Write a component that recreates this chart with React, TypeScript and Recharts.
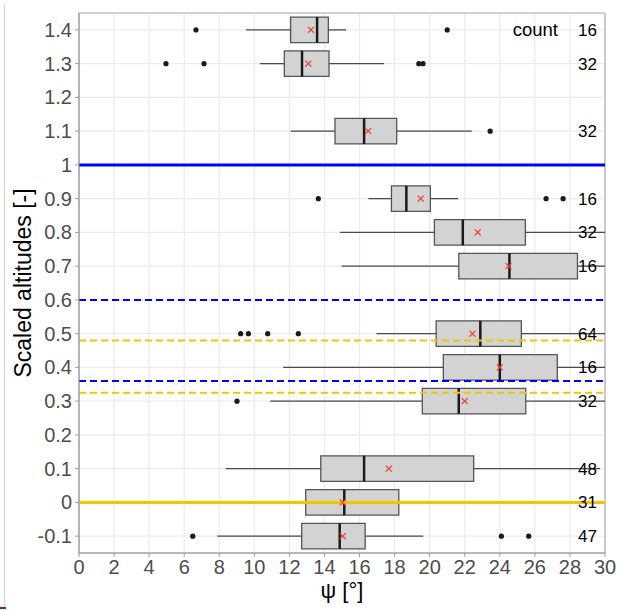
import React from 'react';
import {
  ComposedChart,
  XAxis,
  YAxis,
  CartesianGrid,
  ReferenceArea,
  ReferenceLine,
  Scatter,
} from 'recharts';

// Altitude levels (scaled) of each box, top to bottom
const levels = [1.4, 1.3, 1.1, 0.9, 0.8, 0.7, 0.5, 0.4, 0.3, 0.1, 0, -0.1];
// Five-number summaries of psi [deg] per level
const whiskerLow = [9.53, 10.33, 12.07, 16.5, 14.89, 14.98, 16.96, 11.65, 10.91, 8.37, 10.2, 7.89];
const q1 = [12.07, 11.71, 14.6, 17.82, 20.27, 21.66, 20.37, 20.78, 19.58, 13.79, 12.93, 12.7];
const medians = [13.58, 12.72, 16.26, 18.67, 21.89, 24.55, 22.89, 24.0, 21.66, 16.26, 15.13, 14.87];
const q3 = [14.22, 14.26, 18.12, 20.04, 25.46, 28.43, 25.23, 27.28, 25.48, 22.51, 18.24, 16.32];
const whiskerHigh = [15.23, 17.4, 22.4, 21.62, 30, 30, 30, 30, 30, 29.72, 21.5, 19.64];
const means = [13.23, 13.08, 16.49, 19.49, 22.74, 24.5, 22.44, 24.0, 22.0, 17.67, 15.04, 15.04];
const counts = [16, 32, 32, 16, 32, 16, 64, 16, 32, 48, 31, 47];

// Outliers as [level, psi]
const outliers: [number, number][] = [
  [1.4, 6.67], [1.4, 21.0],
  [1.3, 4.96], [1.3, 7.13], [1.3, 19.38], [1.3, 19.62],
  [1.1, 23.45],
  [0.9, 13.65], [0.9, 26.64], [0.9, 27.61],
  [0.5, 9.22], [0.5, 9.66], [0.5, 10.76], [0.5, 12.51],
  [0.3, 9.01],
  [-0.1, 6.49], [-0.1, 24.09], [-0.1, 25.65],
];

// Reference altitudes
const blueSolid = [1];
const blueDashed = [0.6, 0.36];
const yellowDashed = [0.48, 0.325];
const yellowSolid = [0];

const xTicks = [0, 2, 4, 6, 8, 10, 12, 14, 16, 18, 20, 22, 24, 26, 28, 30];
const yTicks = [-0.1, 0, 0.1, 0.2, 0.3, 0.4, 0.5, 0.6, 0.7, 0.8, 0.9, 1.0, 1.1, 1.2, 1.3, 1.4];

const BOX_HALF = 0.038;
const FONT = '"Liberation Sans", Arial, Helvetica, sans-serif';
const YELLOW = '#f2c500';
const BLUE = '#0000ff';

const meanPoints = levels.map((y, i) => ({ x: means[i], y }));
const outlierPoints = outliers.map(([y, x]) => ({ x, y }));
const countPoints = levels.map((y, i) => ({ x: 30, y, n: counts[i] }));
const headerPoint = [{ x: 30, y: 1.4 }];

const MeanMark = (props: any) => {
  const { cx, cy } = props;
  const s = 3;
  return (
    <g stroke="#f03c3c" strokeWidth={1.3}>
      <line x1={cx - s} y1={cy - s} x2={cx + s} y2={cy + s} />
      <line x1={cx - s} y1={cy + s} x2={cx + s} y2={cy - s} />
    </g>
  );
};

const OutlierDot = (props: any) => <circle cx={props.cx} cy={props.cy} r={2.6} fill="#1a1a1a" />;

const CountText = (props: any) => (
  <text x={props.cx - 8} y={props.cy + 6} textAnchor="end" fontSize={17} fontFamily={FONT} fill="#000">
    {props.payload.n}
  </text>
);

const HeaderText = (props: any) => (
  <text x={props.cx - 47} y={props.cy + 6} textAnchor="end" fontSize={18.5} fontFamily={FONT} fill="#000">
    count
  </text>
);

const fmtY = (v: number) => String(Number(v.toFixed(1)));

const YTitle = (props: any) => {
  const vb = props.viewBox || { x: 0, y: 13, height: 540 };
  const cy = vb.y + vb.height / 2;
  return (
    <text
      x={31}
      y={cy}
      transform={`rotate(-90, 31, ${cy})`}
      textAnchor="middle"
      fontSize={23}
      fontFamily={FONT}
      fill="#000"
    >
      Scaled altitudes [-]
    </text>
  );
};

const XTitle = (props: any) => {
  const vb = props.viewBox || { x: 79, width: 526 };
  return (
    <text x={vb.x + vb.width / 2} y={598} textAnchor="middle" fontSize={22} fontFamily={FONT} fill="#000">
      ψ [°]
    </text>
  );
};

export default function App() {
  return (
    <div style={{ position: 'absolute', left: 0, top: 0, width: 618, height: 611, background: '#fff' }}>
      <div style={{ position: 'absolute', left: 4, top: 4, width: 1, height: 604, background: '#d4d4d4' }} />
      <div style={{ position: 'absolute', left: 0, top: 607, width: 6, height: 2, background: '#a3142f' }} />
      <ComposedChart
        width={618}
        height={611}
        margin={{ top: 13, right: 13, left: 0, bottom: 0 }}
        style={{ position: 'absolute', left: 0, top: 0 }}
      >
        <CartesianGrid stroke="#ebebeb" strokeWidth={1.2} />
        <XAxis
          type="number"
          dataKey="x"
          domain={[0, 30]}
          ticks={xTicks}
          allowDataOverflow
          height={58}
          tickSize={4}
          tickMargin={3}
          stroke="#9e9e9e"
          tick={{ fontSize: 20, fill: '#4d4d4d', fontFamily: FONT }}
          label={<XTitle />}
        />
        <YAxis
          type="number"
          dataKey="y"
          domain={[-0.15, 1.45]}
          ticks={yTicks}
          allowDataOverflow
          width={79}
          tickSize={4}
          tickMargin={3}
          stroke="#9e9e9e"
          tickFormatter={fmtY}
          tick={{ fontSize: 20, fill: '#4d4d4d', fontFamily: FONT }}
          label={<YTitle />}
        />
        <ReferenceArea x1={0} x2={30} y1={-0.15} y2={1.45} fill="none" stroke="#b0b0b0" strokeWidth={1.2} />

        {levels.map((lvl, i) => (
          <ReferenceLine
            key={`wl${i}`}
            segment={[{ x: whiskerLow[i], y: lvl }, { x: q1[i], y: lvl }]}
            stroke="#4a4a4a"
            strokeWidth={1.3}
          />
        ))}
        {levels.map((lvl, i) => (
          <ReferenceLine
            key={`wh${i}`}
            segment={[{ x: q3[i], y: lvl }, { x: whiskerHigh[i], y: lvl }]}
            stroke="#4a4a4a"
            strokeWidth={1.3}
          />
        ))}
        {levels.map((lvl, i) => (
          <ReferenceArea
            key={`box${i}`}
            x1={q1[i]}
            x2={q3[i]}
            y1={lvl - BOX_HALF}
            y2={lvl + BOX_HALF}
            fill="#d3d3d3"
            fillOpacity={1}
            stroke="#555555"
            strokeWidth={1.3}
          />
        ))}
        {levels.map((lvl, i) => (
          <ReferenceLine
            key={`med${i}`}
            segment={[{ x: medians[i], y: lvl - BOX_HALF }, { x: medians[i], y: lvl + BOX_HALF }]}
            stroke="#1a1a1a"
            strokeWidth={2.5}
          />
        ))}

        <Scatter data={outlierPoints} shape={<OutlierDot />} isAnimationActive={false} />
        <Scatter data={meanPoints} shape={<MeanMark />} isAnimationActive={false} />

        {blueSolid.map((y) => (
          <ReferenceLine key={`bs${y}`} y={y} stroke={BLUE} strokeWidth={3} />
        ))}
        {blueDashed.map((y) => (
          <ReferenceLine key={`bd${y}`} y={y} stroke={BLUE} strokeWidth={2} strokeDasharray="7 4" />
        ))}
        {yellowDashed.map((y) => (
          <ReferenceLine key={`yd${y}`} y={y} stroke={YELLOW} strokeWidth={2} strokeDasharray="7 4" />
        ))}
        {yellowSolid.map((y) => (
          <ReferenceLine key={`ys${y}`} y={y} stroke={YELLOW} strokeWidth={3} />
        ))}

        <Scatter data={countPoints} shape={<CountText />} isAnimationActive={false} />
        <Scatter data={headerPoint} shape={<HeaderText />} isAnimationActive={false} />
      </ComposedChart>
    </div>
  );
}
